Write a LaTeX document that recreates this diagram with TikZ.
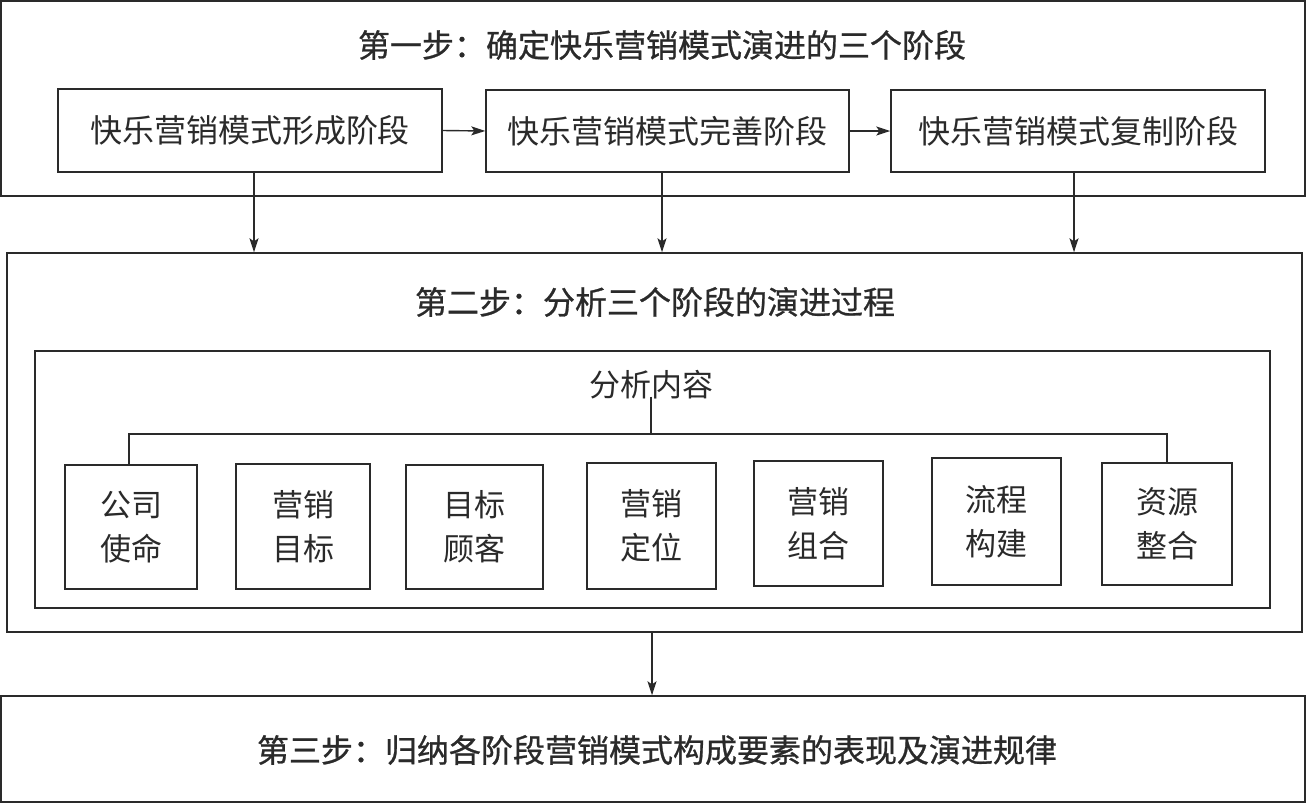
\documentclass[tikz,border=0pt]{standalone}
\usepackage{fontspec}
\setmainfont{Noto Sans CJK SC}
\newfontfamily\titlefont[FakeBold=0.8]{Noto Sans CJK SC}
\usetikzlibrary{arrows.meta}
\definecolor{ink}{HTML}{2A2A2A}
\tikzset{
  box/.style={draw=ink, line width=1.4pt, rectangle, inner sep=0pt, text=ink},
  ttl/.style={font=\titlefont\fontsize{32}{36}\selectfont, text=ink, inner sep=0pt},
  lbltext/.style={font=\fontsize{31}{36}\selectfont, text=ink, inner sep=0pt},
  stagebox/.style={box, font=\fontsize{32}{36}\selectfont},
  smallbox/.style={box, font=\fontsize{31}{44}\selectfont, align=center},
  arr/.style={draw=ink, line width=1.4pt, -{Stealth[length=14pt,width=9pt,inset=3pt]}},
  ln/.style={draw=ink, line width=1.4pt}
}
\begin{document}
\begin{tikzpicture}[x=1pt,y=-1pt]
\useasboundingbox (0,0) rectangle (1307,804);
% step 1
\node[box, minimum width=1304pt, minimum height=195pt] (s1) at (653,98.5) {};
\node[ttl] (t1) at (662,45) {第一步：确定快乐营销模式演进的三个阶段};
\node[stagebox, minimum width=384pt, minimum height=83pt] (a1) at (250,130.5) {快乐营销模式形成阶段};
\node[stagebox, minimum width=363pt, minimum height=82pt] (a2) at (667.5,131) {快乐营销模式完善阶段};
\node[stagebox, minimum width=374pt, minimum height=82pt] (a3) at (1078,131) {快乐营销模式复制阶段};
% step 2
\node[box, minimum width=1295pt, minimum height=379pt] (s2) at (654.5,442.5) {};
\node[ttl] (t2) at (655,302) {第二步：分析三个阶段的演进过程};
\node[box, minimum width=1235pt, minimum height=257pt] (in) at (652.5,479.5) {};
\node[lbltext] (lbl) at (651,385) {分析内容};
\node[smallbox, minimum width=132pt, minimum height=124pt] (b1) at (131,527) {公司\\使命};
\node[smallbox, minimum width=134pt, minimum height=125pt] (b2) at (303,526.5) {营销\\目标};
\node[smallbox, minimum width=137pt, minimum height=124pt] (b3) at (474.5,527) {目标\\顾客};
\node[smallbox, minimum width=129pt, minimum height=126pt] (b4) at (651.5,526) {营销\\定位};
\node[smallbox, minimum width=129pt, minimum height=125pt] (b5) at (818.5,523.5) {营销\\组合};
\node[smallbox, minimum width=129pt, minimum height=127pt] (b6) at (996.5,521.5) {流程\\构建};
\node[smallbox, minimum width=130pt, minimum height=122pt] (b7) at (1167,524) {资源\\整合};
\coordinate (hl) at (651,434);
% step 3
\node[box, minimum width=1304pt, minimum height=106pt] (s3) at (653,749) {};
\node[ttl] (t3) at (657,750) {第三步：归纳各阶段营销模式构成要素的表现及演进规律};
% connectors
\draw[arr] (a1.east) -- (a2.west);
\draw[arr] (a2.east) -- (a3.west);
\draw[arr] ([xshift=4pt]a1.south) -- ([xshift=4pt]a1.south |- s2.north);
\draw[arr] ([xshift=-5.5pt]a2.south) -- ([xshift=-5.5pt]a2.south |- s2.north);
\draw[arr] ([xshift=-4pt]a3.south) -- ([xshift=-4pt]a3.south |- s2.north);
\draw[ln] ([yshift=3pt]lbl.south) -- (hl);
\draw[ln] ([xshift=-2pt]b1.north) -- ([xshift=-2pt]b1.north |- hl) -- (b7.north |- hl) -- (b7.north);
\draw[arr] ([xshift=-2.5pt]s2.south) -- ([xshift=-2.5pt]s2.south |- s3.north);
\end{tikzpicture}
\end{document}
